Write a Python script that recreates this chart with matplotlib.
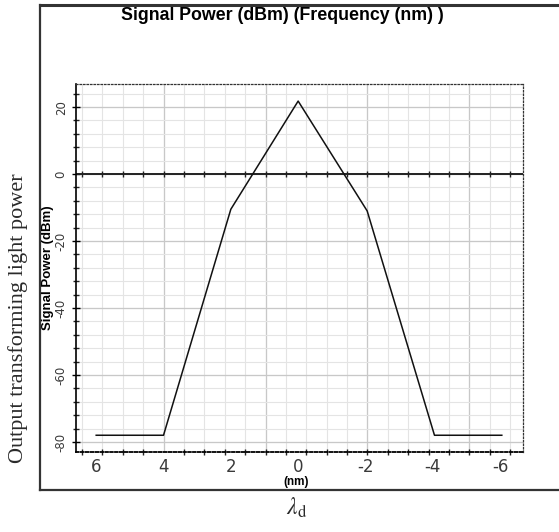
import numpy as np
import matplotlib
matplotlib.use("Agg")
import matplotlib.pyplot as plt
from matplotlib.lines import Line2D

# ── data ────────────────────────────────────────────────────────────────
wavelength_nm = [6.0, 4.0, 2.0, 0.0, -2.05, -4.05, -6.05]
power_dbm = [-78.0, -78.0, -10.5, 21.8, -11.0, -78.0, -78.0]

x_ticks = [6, 4, 2, 0, -2, -4, -6]
y_ticks = [20, 0, -20, -40, -60, -80]

W, H = 559, 532
fig = plt.figure(figsize=(W / 100, H / 100), dpi=100)


def px(x, y):
    # pixel coords (top-left origin) -> figure fraction
    return x / W, 1 - y / H


# plot area: x 76..523, y 84..452 px
l, b = px(76, 452)
r, t = px(523, 84)
ax = fig.add_axes([l, b, r - l, t - b])
ax.set_xlim(6.6, -6.68)
ax.set_ylim(-83, 26.9)

# grid (the instrument grid does not line up with the nm labels)
xg_minor = 4.0 - 0.606 * np.arange(-4, 19)
xg_major = 4.0 - 3.03 * np.arange(0, 4)
yg_minor = np.arange(-80, 25, 4)
yg_major = np.arange(-80, 25, 20)
for xv in xg_minor:
    ax.axvline(xv, color="#e4e4e4", lw=0.8, zorder=0)
for xv in xg_major:
    ax.axvline(xv, color="#c8c8c8", lw=0.9, zorder=0)
for yv in yg_minor:
    ax.axhline(yv, color="#e4e4e4", lw=0.8, zorder=0)
for yv in yg_major:
    ax.axhline(yv, color="#c8c8c8", lw=0.9, zorder=0)

# zero line with its own tick marks
ax.axhline(0, color="#222222", lw=1.4, zorder=2)
ax.plot(xg_minor, np.zeros_like(xg_minor), ls="none", marker="|",
        ms=5, mew=1.0, color="#222222", zorder=2)

# the trace
ax.plot(wavelength_nm, power_dbm, color="#111111", lw=1.1, zorder=3)

# spines
for side in ["top", "right"]:
    ax.spines[side].set_linestyle((0, (1.2, 1.6)))
    ax.spines[side].set_linewidth(0.9)
    ax.spines[side].set_color("#333333")
ax.spines["bottom"].set_linestyle((0, (1.5, 1.2)))
ax.spines["bottom"].set_linewidth(1.3)
ax.spines["left"].set_linewidth(1.2)

# x ticks: labels at nm values, marks at grid positions
ax.set_xticks(x_ticks)
ax.set_xticklabels([str(v) for v in x_ticks])
ax.set_xticks(xg_minor[(xg_minor < 6.6) & (xg_minor > -6.68)], minor=True)
ax.tick_params(axis="x", which="major", length=0, pad=4, labelsize=12,
               labelcolor="#3a3a3a")
ax.tick_params(axis="x", which="minor", length=5, direction="inout",
               width=1.0, color="#222222")

# y ticks
ax.set_yticks(y_ticks)
ax.set_yticklabels([str(v) for v in y_ticks], rotation=90, va="center")
ax.set_yticks(yg_minor, minor=True)
ax.tick_params(axis="y", which="major", length=6, direction="inout",
               width=1.0, pad=3, labelsize=8.5, labelcolor="#3a3a3a")
ax.tick_params(axis="y", which="minor", length=5, direction="inout",
               width=1.0, color="#222222")

# texts
fig.text(*px(282, 15), "Signal Power (dBm) (Frequency (nm) )",
         family="Liberation Sans", weight="bold", fontsize=12.8,
         ha="center", va="center")
fig.text(*px(48, 268), "Signal Power (dBm)", family="Liberation Sans",
         weight="bold", fontsize=9.5, rotation=90, ha="center", va="center")
fig.text(*px(296, 482), "(nm)", family="Liberation Sans", weight="bold",
         fontsize=8.5, ha="center", va="center")
fig.text(*px(18, 318), "Output transforming light power",
         family="Liberation Serif", fontsize=16, rotation=90,
         ha="center", va="center", color="#2a2a2a")
plt.rcParams["mathtext.fontset"] = "stix"
fig.text(*px(297, 508), r"$\lambda_\mathrm{d}$", fontsize=17,
         ha="center", va="center", color="#2a2a2a")

# outer frame
frame_kw = dict(color="#333333", lw=1.6, transform=fig.transFigure)
x0, y0 = px(40, 5)
x1, y1 = px(559, 490)
fig.add_artist(Line2D([x0, x0], [y0, y1], **frame_kw))
fig.add_artist(Line2D([x0, x1], [y0, y0], lw=2.2, color="#333333",
                      transform=fig.transFigure))
fig.add_artist(Line2D([x0, x1], [y1, y1], **frame_kw))

fig.savefig("out.png", dpi=100)
